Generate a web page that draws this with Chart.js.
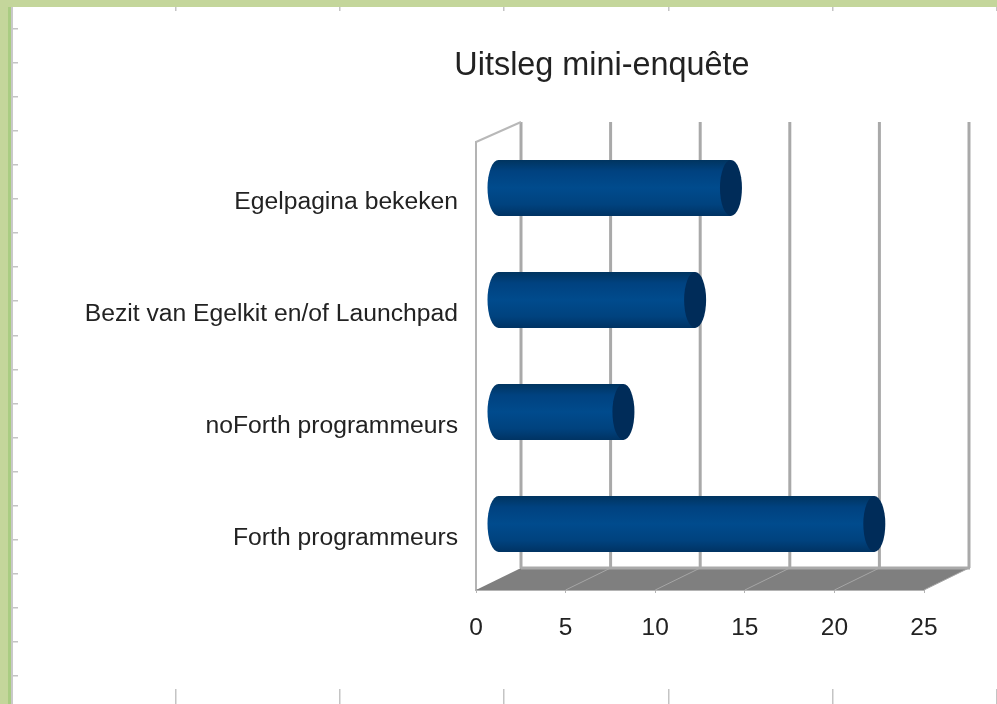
<!DOCTYPE html>
<html>
<head>
<meta charset="utf-8">
<title>Uitsleg mini-enquête</title>
<script src="https://cdn.jsdelivr.net/npm/chart.js@4"></script>
<style>
  html, body { margin: 0; padding: 0; background: #c4d69b; }
  #wrap { position: relative; width: 997px; height: 704px; overflow: hidden; }
  canvas { display: block; filter: blur(0.6px); }
</style>
</head>
<body>
<div id="wrap"><canvas id="visual" width="997" height="704"></canvas></div>
<script>
const titleText = 'Uitsleg mini-enquête';
const categories = ['Egelpagina bekeken', 'Bezit van Egelkit en/of Launchpad', 'noForth programmeurs', 'Forth programmeurs'];
const answers = [13, 11, 7, 21];
const axisMax = 25;
const axisStep = 5;

const fontFamily = '"Liberation Sans", Arial, sans-serif';
const textColor = '#222222';

// 3d look: back wall sits this far from the front plane, the bars about halfway
const depthX = 45;
const depthY = -22;
const barShiftX = 22;
const barShiftY = -10;
const capWidth = 11;

const barFill = (c) => {
  const scale = c.chart.scales.y;
  const mid = scale ? scale.getPixelForValue(c.dataIndex) : NaN;
  // options also get resolved before the scales have been laid out
  if (!Number.isFinite(mid)) {
    return '#004b8d';
  }
  const half = (scale.height / categories.length) / 4;
  const grad = c.chart.ctx.createLinearGradient(0, mid - half, 0, mid + half);
  grad.addColorStop(0, '#00345f');
  grad.addColorStop(0.2, '#004280');
  grad.addColorStop(0.5, '#004b8d');
  grad.addColorStop(0.8, '#00427e');
  grad.addColorStop(1, '#003363');
  return grad;
};

// page around the chart: green edge, white sheet, ruler marks
const sheet = {
  id: 'sheet',
  beforeDraw(chart) {
    const {ctx, width, height} = chart;
    ctx.save();
    ctx.fillStyle = '#c4d69b';
    ctx.fillRect(0, 0, width, height);
    ctx.fillStyle = '#a9cc82';
    ctx.fillRect(8, 7, 4, height);
    ctx.fillStyle = '#c9c9c9';
    ctx.fillRect(11, 7, 2, height);
    ctx.fillStyle = '#ffffff';
    ctx.fillRect(13, 7, width, height);
    ctx.fillStyle = '#c4c4c4';
    for (let y = 28; y < height; y += 34.06) {
      ctx.fillRect(13, Math.round(y), 5, 1.5);
    }
    for (let x = 175; x < width; x += 164.2) {
      ctx.fillRect(Math.round(x), 7, 1.5, 4);
      ctx.fillRect(Math.round(x), 689, 1.5, 15);
    }
    ctx.restore();
  },
};

const box3d = {
  id: 'box3d',
  beforeDatasetsDraw(chart) {
    const {ctx, chartArea} = chart;
    const scale = chart.scales.x;
    const {left, right, top, bottom} = chartArea;
    ctx.save();
    // floor
    ctx.fillStyle = '#7f7f7f';
    ctx.beginPath();
    ctx.moveTo(left, bottom);
    ctx.lineTo(left + depthX, bottom + depthY);
    ctx.lineTo(right + depthX, bottom + depthY);
    ctx.lineTo(right, bottom);
    ctx.closePath();
    ctx.fill();
    // back wall lines and floor lines
    scale.ticks.forEach((tick) => {
      const x = scale.getPixelForValue(tick.value);
      ctx.strokeStyle = '#a9a9a9';
      ctx.lineWidth = 3;
      ctx.beginPath();
      ctx.moveTo(x + depthX, top - 20);
      ctx.lineTo(x + depthX, bottom + depthY);
      ctx.stroke();
      if (tick.value > 0) {
        ctx.strokeStyle = '#a6a6a6';
        ctx.lineWidth = 1;
        ctx.beginPath();
        ctx.moveTo(x, bottom);
        ctx.lineTo(x + depthX, bottom + depthY);
        ctx.stroke();
      }
    });
    ctx.strokeStyle = '#a9a9a9';
    ctx.lineWidth = 3;
    ctx.beginPath();
    ctx.moveTo(left + depthX, bottom + depthY);
    ctx.lineTo(right + depthX + 1, bottom + depthY);
    ctx.stroke();
    // left wall
    ctx.strokeStyle = '#b8b8b8';
    ctx.lineWidth = 2;
    ctx.beginPath();
    ctx.moveTo(left, top);
    ctx.lineTo(left + depthX, top - 20);
    ctx.stroke();
    ctx.restore();
  },
  beforeDatasetDraw(chart) {
    chart.ctx.save();
    chart.ctx.translate(barShiftX, barShiftY);
  },
  afterDatasetDraw(chart, args) {
    const {ctx} = chart;
    args.meta.data.forEach((bar) => {
      const ry = bar.height / 2;
      ctx.fillStyle = bar.options.backgroundColor;
      ctx.beginPath();
      ctx.ellipse(bar.base, bar.y, capWidth, ry, 0, 0, Math.PI * 2);
      ctx.fill();
      ctx.fillStyle = '#002c59';
      ctx.beginPath();
      ctx.ellipse(bar.x, bar.y, capWidth, ry, 0, 0, Math.PI * 2);
      ctx.fill();
    });
    ctx.restore();
  },
  afterLayout(chart) {
    // title sits above the plot, not over the whole page
    const block = chart.titleBlock;
    block.left = 404;
    block.right = 800;
  },
};

new Chart('visual', {
  type: 'bar',
  data: {
    labels: categories,
    datasets: [{
      label: titleText,
      data: answers,
      backgroundColor: barFill,
      borderWidth: 0,
      barPercentage: 0.5,
      categoryPercentage: 1,
      clip: false,
    }],
  },
  plugins: [sheet, box3d],
  options: {
    indexAxis: 'y',
    responsive: false,
    animation: false,
    layout: {padding: {left: 0, top: 0, right: 73, bottom: 0}},
    plugins: {
      legend: {display: false},
      tooltip: {enabled: false},
      title: {
        display: true,
        text: titleText,
        color: textColor,
        font: {family: fontFamily, size: 32.4, weight: 'normal', lineHeight: 1.2},
        padding: {top: 47, bottom: 56.1},
      },
    },
    scales: {
      x: {
        min: 0,
        max: axisMax,
        afterFit: (axis) => {
          axis.height = 114;
        },
        ticks: {
          stepSize: axisStep,
          color: textColor,
          padding: 21,
          maxRotation: 0,
          font: {family: fontFamily, size: 24.5},
        },
        grid: {drawOnChartArea: false, tickLength: 3, color: '#b4b4b4', lineWidth: 1},
        border: {color: '#b4b4b4', width: 2},
      },
      y: {
        afterFit: (axis) => {
          axis.width = 476;
        },
        ticks: {
          color: textColor,
          padding: 18,
          labelOffset: 4,
          autoSkip: false,
          font: {family: fontFamily, size: 24.7},
        },
        grid: {display: false, tickLength: 0},
        border: {color: '#b4b4b4', width: 2},
      },
    },
  },
});
</script>
</body>
</html>
